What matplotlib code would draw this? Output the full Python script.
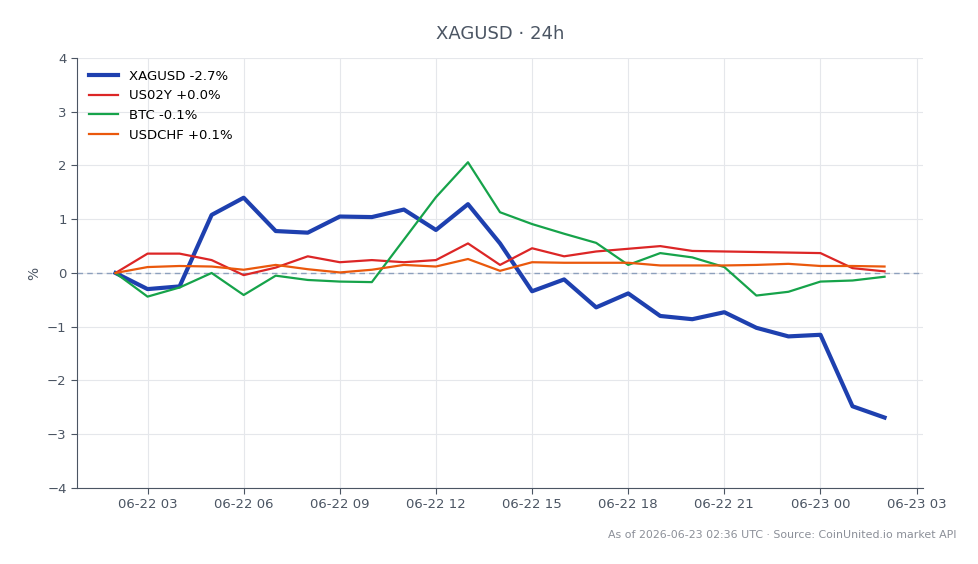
import matplotlib
matplotlib.use('Agg')

import numpy as np
import pandas as pd
import matplotlib.pyplot as plt
import matplotlib.dates as mdates

times = pd.date_range('2026-06-22 02:00', '2026-06-23 02:00', freq='h')

xagusd = [0.00, -0.30, -0.25, 1.08, 1.40, 0.78, 0.75, 1.05, 1.04, 1.18, 0.80, 1.28, 0.55,
          -0.34, -0.12, -0.64, -0.38, -0.80, -0.86, -0.73, -1.02, -1.18, -1.15, -2.48, -2.69]
us02y = [0.00, 0.36, 0.36, 0.24, -0.04, 0.10, 0.31, 0.20, 0.24, 0.20, 0.24, 0.55, 0.15,
         0.46, 0.31, 0.40, 0.45, 0.50, 0.41, 0.40, 0.39, 0.38, 0.37, 0.09, 0.03]
btc = [0.00, -0.44, -0.27, 0.00, -0.41, -0.05, -0.13, -0.16, -0.17, 0.62, 1.41, 2.06, 1.13,
       0.91, 0.73, 0.56, 0.15, 0.37, 0.29, 0.11, -0.42, -0.35, -0.16, -0.14, -0.07]
usdchf = [0.00, 0.11, 0.13, 0.12, 0.06, 0.15, 0.07, 0.01, 0.06, 0.15, 0.12, 0.26, 0.04,
          0.20, 0.19, 0.19, 0.19, 0.14, 0.14, 0.14, 0.15, 0.17, 0.13, 0.13, 0.12]

series = [('XAGUSD -2.7%', xagusd, '#1e40af', 3.0),
          ('US02Y +0.0%', us02y, '#dc2626', 1.6),
          ('BTC -0.1%', btc, '#16a34a', 1.6),
          ('USDCHF +0.1%', usdchf, '#ea580c', 1.6)]

text_col = '#4b5563'

fig = plt.figure(figsize=(9.79, 5.64), dpi=100)
ax = fig.add_axes([0.0787, 0.1348, 0.8641, 0.7624])

for label, vals, col, lw in series:
    ax.plot(times, vals, color=col, lw=lw, label=label, zorder=3)

ax.axhline(0, color='#8da0bd', lw=1, ls=(0, (4, 3)), zorder=2)

ax.set_ylim(-4, 4)
ax.set_yticks(np.arange(-4, 5, 1))
ax.xaxis.set_major_locator(mdates.HourLocator(byhour=[0, 3, 6, 9, 12, 15, 18, 21]))
ax.xaxis.set_major_formatter(mdates.DateFormatter('%m-%d %H'))

ax.grid(True, color='#e5e7eb', lw=0.8)
ax.set_axisbelow(True)
for s in ['top', 'right']:
    ax.spines[s].set_visible(False)
for s in ['left', 'bottom']:
    ax.spines[s].set_color(text_col)
ax.tick_params(colors=text_col, labelsize=9.5, length=4)

ax.set_ylabel('%', color=text_col, fontsize=10)
ax.set_title('XAGUSD · 24h', color=text_col, fontsize=13, pad=14)

leg = ax.legend(loc='upper left', frameon=False, fontsize=9.5, handlelength=2.2)

fig.text(0.977, 0.051, 'As of 2026-06-23 02:36 UTC · Source: CoinUnited.io market API',
         ha='right', va='center', fontsize=7.9, color='#8b8f98')

plt.savefig('out.png', dpi=100)
